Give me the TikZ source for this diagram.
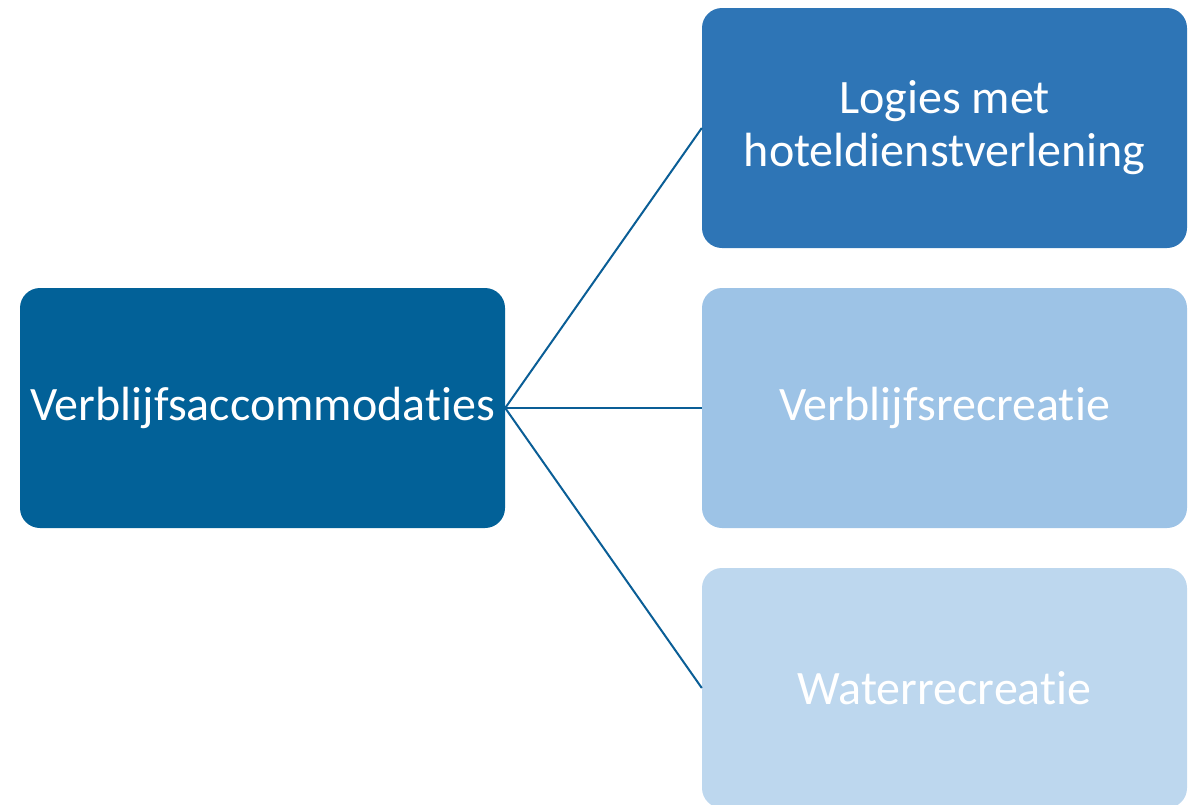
\documentclass[tikz,border=0pt]{standalone}
\usepackage{fontspec}
\setmainfont[Ligatures={NoCommon,NoRequired,NoContextual}]{Carlito}
\definecolor{cdark}{HTML}{026198}
\definecolor{ctop}{HTML}{2E75B6}
\definecolor{cmid}{HTML}{9DC3E6}
\definecolor{clow}{HTML}{BDD7EE}
\definecolor{cline}{HTML}{0A5E96}
\begin{document}
\begin{tikzpicture}[x=1pt,y=-1pt,
  box/.style={rounded corners=20pt,minimum width=485pt,minimum height=240pt,inner sep=0pt,
    text=white,align=center,font=\fontsize{48}{53}\selectfont},
  conn/.style={draw=cline,line width=2pt}]
\useasboundingbox (0,0) rectangle (1194,804);
\node[box,fill=cdark] (root) at (262.5,408) {Verblijfsaccommodaties};
\node[box,fill=ctop] (a) at (944.5,128) {Logies met\\hoteldienstverlening};
\node[box,fill=cmid] (b) at (944.5,408) {Verblijfsrecreatie};
\node[box,fill=clow] (c) at (944.5,688) {Waterrecreatie};
\draw[conn] (root.east) -- (a.west);
\draw[conn] (root.east) -- (b.west);
\draw[conn] (root.east) -- (c.west);
\end{tikzpicture}
\end{document}
